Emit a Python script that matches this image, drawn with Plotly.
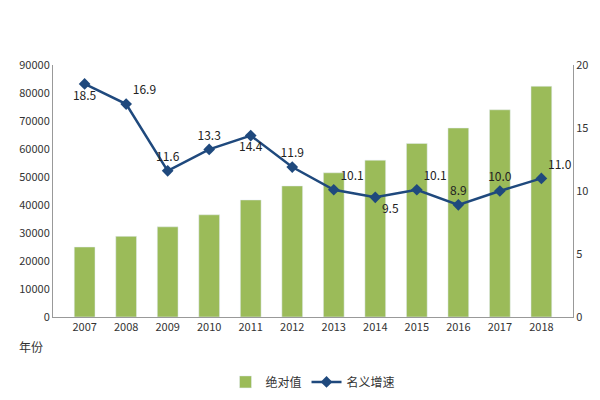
import plotly.graph_objects as go

years = ["2007", "2008", "2009", "2010", "2011", "2012", "2013", "2014", "2015", "2016", "2017", "2018"]
absolute = [25000, 28800, 32200, 36500, 41800, 46800, 51500, 56000, 62000, 67500, 74000, 82400]
growth = [18.5, 16.9, 11.6, 13.3, 14.4, 11.9, 10.1, 9.5, 10.1, 8.9, 10.0, 11.0]

# label placement, matching the reference
label_pos = ["bottom center", "top right", "top center", "top center", "bottom center",
             "top center", "top right", "bottom right", "top right", "top center", "top center", "top right"]

fig = go.Figure()
fig.add_trace(go.Bar(x=years, y=absolute, name="绝对值", marker_color="#9bbb59", width=0.5))
fig.add_trace(go.Scatter(x=years, y=growth, name="名义增速", yaxis="y2", mode="lines+markers+text",
                         line=dict(color="#1f497d", width=2.5),
                         marker=dict(symbol="diamond", size=9, color="#1f497d"),
                         text=[f"{v:.1f}" for v in growth], textposition=label_pos,
                         textfont=dict(size=12, color="#222")))

fig.update_layout(
    width=600, height=400,
    margin=dict(l=45, r=35, t=57, b=82),
    plot_bgcolor="white", paper_bgcolor="white",
    font=dict(family="Noto Sans CJK SC, DejaVu Sans", size=11, color="#333"),
    bargap=0.4,
    xaxis=dict(showline=True, linecolor="#999", ticks="", tickfont=dict(size=11)),
    yaxis=dict(range=[0, 90000], dtick=10000, tickformat="d", showgrid=False, showline=True,
               linecolor="#999", tickfont=dict(size=11)),
    yaxis2=dict(range=[0, 20], dtick=5, overlaying="y", side="right", showgrid=False,
                showline=True, linecolor="#999", tickfont=dict(size=11)),
    legend=dict(orientation="h", x=0.5, xanchor="center", y=-0.2, yanchor="top", font=dict(size=12)),
    annotations=[dict(text="年份", xref="paper", yref="paper", x=-0.07, y=-0.16,
                      showarrow=False, font=dict(size=12))],
)

fig.write_html("out.html")
